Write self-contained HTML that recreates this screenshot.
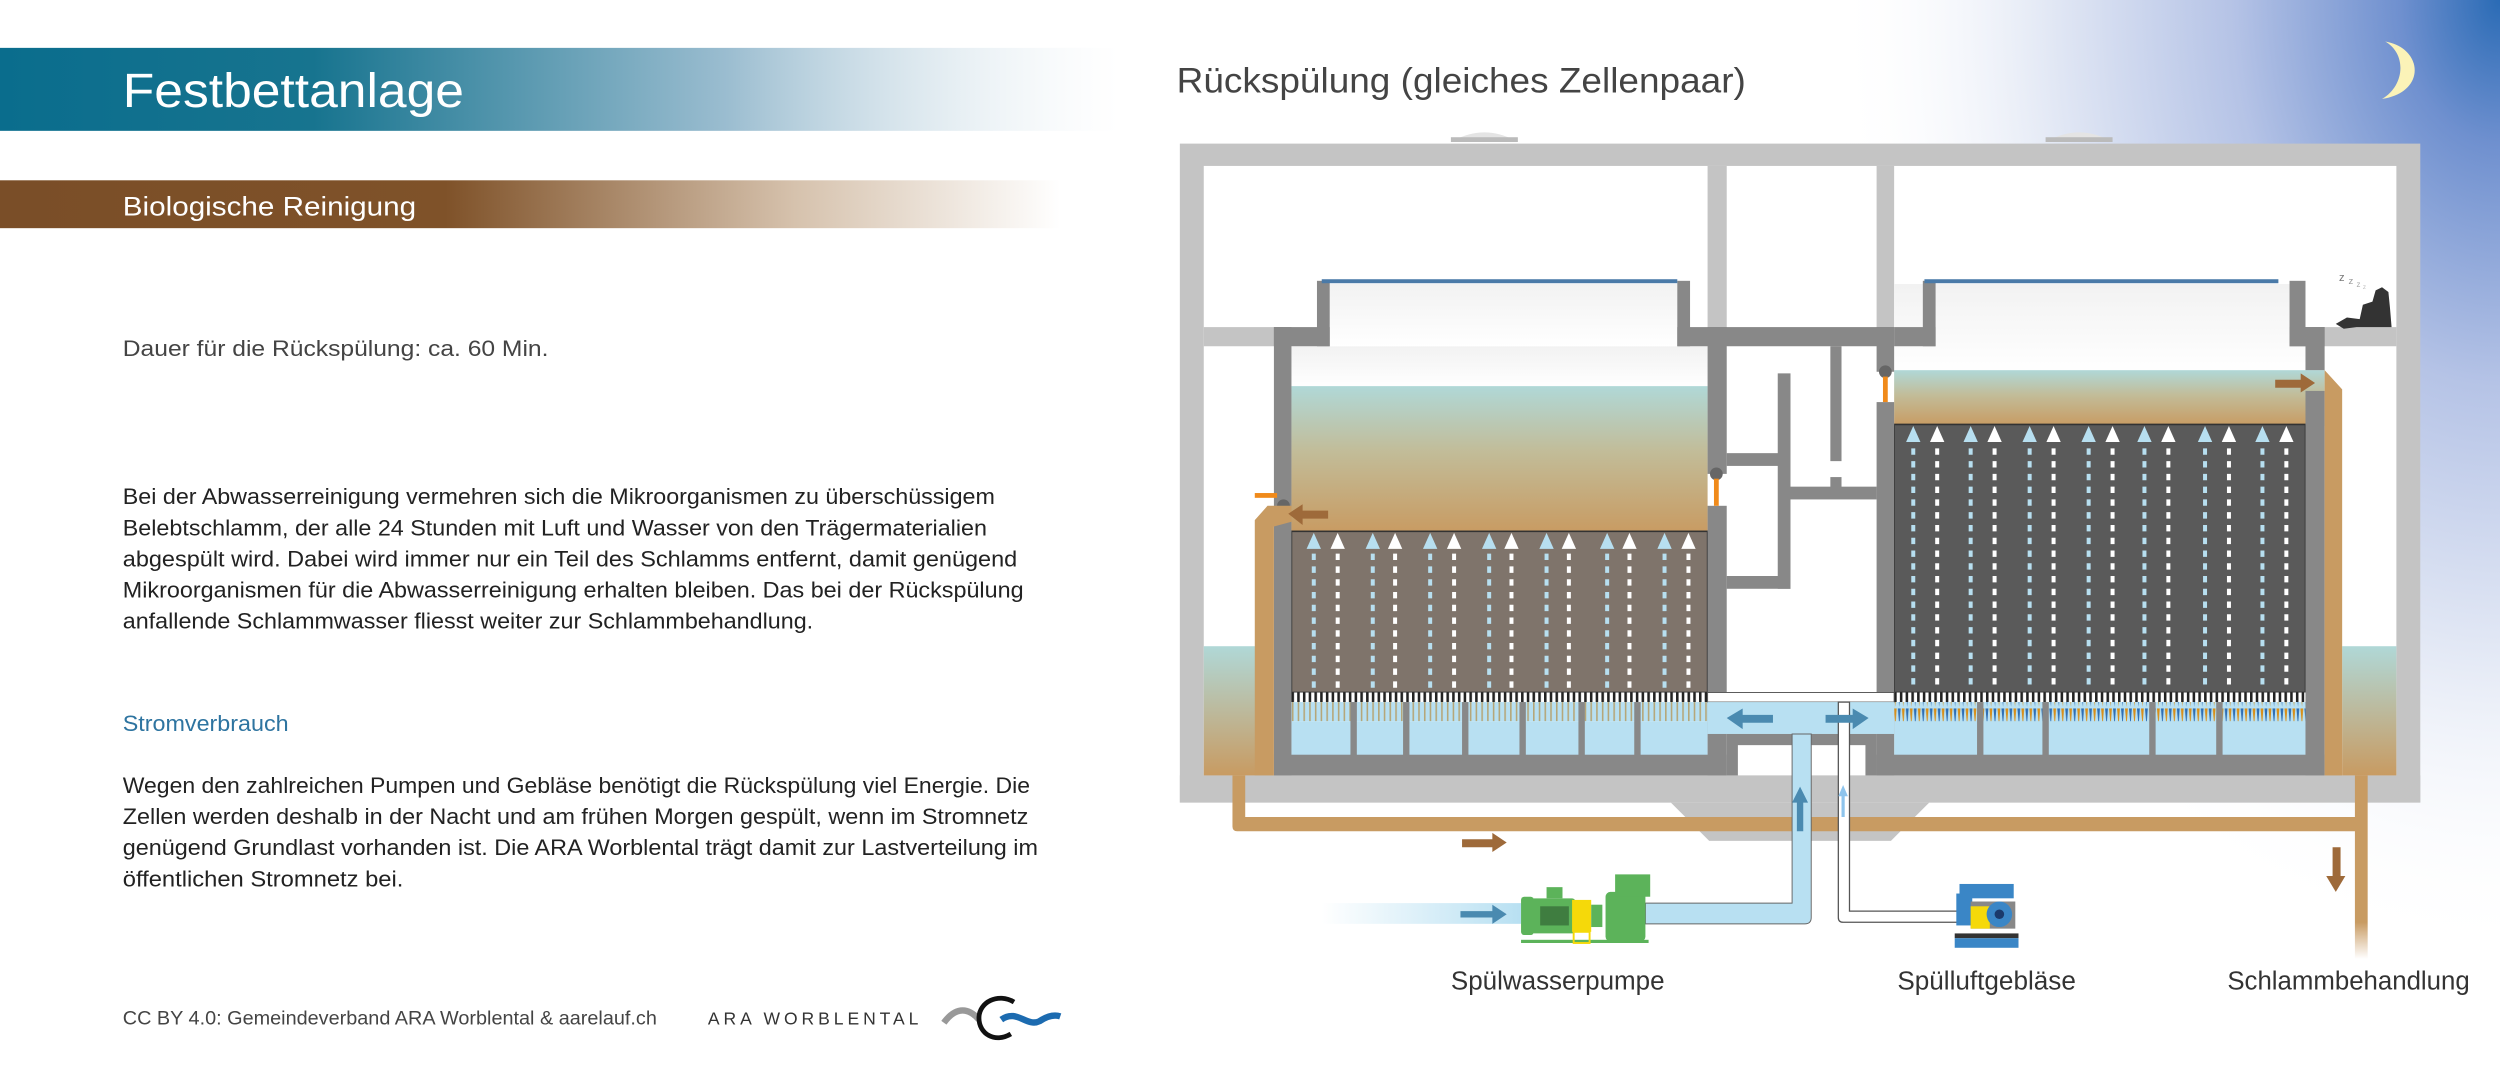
<!DOCTYPE html>
<html><head><meta charset="utf-8"><style>
html,body{margin:0;padding:0;background:#fff;}
svg{display:block;}
text{font-family:"Liberation Sans","DejaVu Sans",sans-serif;}
</style></head><body>
<svg width="2500" height="1085" viewBox="0 0 1568 680" preserveAspectRatio="none" xmlns="http://www.w3.org/2000/svg">
<defs>
<linearGradient id="gTeal" x1="0" x2="1"><stop offset="0" stop-color="#0a6d8d"/><stop offset="0.28" stop-color="#17748f"/><stop offset="0.65" stop-color="#9bbdd0"/><stop offset="1" stop-color="#fff" stop-opacity="0.3"/></linearGradient>
<linearGradient id="gBrown" x1="0" x2="1"><stop offset="0" stop-color="#7a4e28"/><stop offset="0.42" stop-color="#7f5229"/><stop offset="0.75" stop-color="#d6c2ad"/><stop offset="1" stop-color="#fff"/></linearGradient>
<radialGradient id="gSky" cx="1" cy="0" r="1"><stop offset="0" stop-color="#2a6bb5"/><stop offset="0.15" stop-color="#6f90cf"/><stop offset="0.4" stop-color="#b5c3e6"/><stop offset="0.7" stop-color="#e6ebf6"/><stop offset="1" stop-color="#fff" stop-opacity="0"/></radialGradient>
<linearGradient id="gWater" x1="0" y1="0" x2="0" y2="1"><stop offset="0" stop-color="#b0d8d7"/><stop offset="0.45" stop-color="#c2bc98"/><stop offset="1" stop-color="#c89b62"/></linearGradient>
<linearGradient id="gOut" x1="0" y1="0" x2="0" y2="1"><stop offset="0" stop-color="#b0d8d7"/><stop offset="1" stop-color="#c89b62"/></linearGradient>
<linearGradient id="gAir" x1="0" y1="0" x2="0" y2="1"><stop offset="0" stop-color="#f2f2f2"/><stop offset="1" stop-color="#fff"/></linearGradient>
<linearGradient id="gIn" x1="0" x2="1"><stop offset="0" stop-color="#b8e0f2" stop-opacity="0"/><stop offset="1" stop-color="#b8e0f2"/></linearGradient>
<linearGradient id="gDown" x1="0" y1="0" x2="0" y2="1"><stop offset="0" stop-color="#c89b62"/><stop offset="0.8" stop-color="#c89b62"/><stop offset="1" stop-color="#c89b62" stop-opacity="0"/></linearGradient>
<pattern id="pDiffL" width="3.6" height="6" patternUnits="userSpaceOnUse"><rect width="3.6" height="6" fill="#fff"/><rect width="1.6" height="6" fill="#222"/></pattern>
<pattern id="pTickL" width="3.6" height="12" patternUnits="userSpaceOnUse"><rect x="0.3" width="1" height="12" fill="#b5a77a"/></pattern>
<pattern id="pTickR" width="5" height="12" patternUnits="userSpaceOnUse"><path d="M0.3 0 L2.1 0 L1.3 11Z" fill="#2f6fb5"/><path d="M2.8 0 L4.6 0 L3.8 11Z" fill="#d8901a"/></pattern>
<g id="colL"><polygon points="0,334 -4.5,344 4.5,344" fill="#b7dff0"/><line x1="0" y1="347" x2="0" y2="432" stroke="#b7dff0" stroke-width="2.5" stroke-dasharray="4 4"/></g>
<g id="colLw"><polygon points="0,334 -4.5,344 4.5,344" fill="#fff"/><line x1="0" y1="347" x2="0" y2="432" stroke="#fff" stroke-width="2.5" stroke-dasharray="4 4"/></g>
<g id="colR"><polygon points="0,267 -4.5,277 4.5,277" fill="#b7dff0"/><line x1="0" y1="281" x2="0" y2="432" stroke="#b7dff0" stroke-width="2.5" stroke-dasharray="4 4"/></g>
<g id="colRw"><polygon points="0,267 -4.5,277 4.5,277" fill="#fff"/><line x1="0" y1="281" x2="0" y2="432" stroke="#fff" stroke-width="2.5" stroke-dasharray="4 4"/></g>
</defs>

<rect x="1150" y="0" width="418" height="600" fill="url(#gSky)"/>
<path d="M1496,26 C1520,30 1522,58 1494,62 C1508,54 1510,34 1496,26Z" fill="#fbf3b8"/>

<rect x="0" y="30" width="702" height="52" fill="url(#gTeal)"/>
<text x="77" y="67" font-size="30" fill="#fff" textLength="214" lengthAdjust="spacingAndGlyphs">Festbettanlage</text>
<rect x="0" y="113" width="665" height="30" fill="url(#gBrown)"/>
<text x="77" y="135" font-size="17" fill="#fff" textLength="184" lengthAdjust="spacingAndGlyphs">Biologische Reinigung</text>
<g font-size="14" fill="#222">
<text x="77" y="223" fill="#444" textLength="267" lengthAdjust="spacingAndGlyphs">Dauer für die Rückspülung: ca. 60 Min.</text>
<text x="77" y="316" textLength="547" lengthAdjust="spacingAndGlyphs">Bei der Abwasserreinigung vermehren sich die Mikroorganismen zu überschüssigem</text>
<text x="77" y="335.5" textLength="542" lengthAdjust="spacingAndGlyphs">Belebtschlamm, der alle 24 Stunden mit Luft und Wasser von den Trägermaterialien</text>
<text x="77" y="355" textLength="561" lengthAdjust="spacingAndGlyphs">abgespült wird. Dabei wird immer nur ein Teil des Schlamms entfernt, damit genügend</text>
<text x="77" y="374.5" textLength="565" lengthAdjust="spacingAndGlyphs">Mikroorganismen für die Abwasserreinigung erhalten bleiben. Das bei der Rückspülung</text>
<text x="77" y="394" textLength="433" lengthAdjust="spacingAndGlyphs">anfallende Schlammwasser fliesst weiter zur Schlammbehandlung.</text>
<text x="77" y="458" fill="#2e74a0" textLength="104" lengthAdjust="spacingAndGlyphs">Stromverbrauch</text>
<text x="77" y="497" textLength="569" lengthAdjust="spacingAndGlyphs">Wegen den zahlreichen Pumpen und Gebläse benötigt die Rückspülung viel Energie. Die</text>
<text x="77" y="516.5" textLength="568" lengthAdjust="spacingAndGlyphs">Zellen werden deshalb in der Nacht und am frühen Morgen gespült, wenn im Stromnetz</text>
<text x="77" y="536" textLength="574" lengthAdjust="spacingAndGlyphs">genügend Grundlast vorhanden ist. Die ARA Worblental trägt damit zur Lastverteilung im</text>
<text x="77" y="555.5" textLength="176" lengthAdjust="spacingAndGlyphs">öffentlichen Stromnetz bei.</text>
</g>
<text x="77" y="642" font-size="12" fill="#444" textLength="335" lengthAdjust="spacingAndGlyphs">CC BY 4.0: Gemeindeverband ARA Worblental &amp; aarelauf.ch</text>
<text x="444" y="642" font-size="11" fill="#333" textLength="132" lengthAdjust="spacing">ARA WORBLENTAL</text>
<path d="M592,641 C600,630 608,632 614,639" stroke="#999" stroke-width="4" fill="none"/>
<path d="M636,628 C626,622 614,628 614,638 C614,648 624,654 634,648" stroke="#111" stroke-width="3" fill="none"/>
<path d="M628,639 C638,632 644,644 652,640 C658,636 662,636 665,637" stroke="#1c6bb0" stroke-width="4" fill="none"/>

<text x="738" y="58" font-size="22" fill="#444" textLength="357" lengthAdjust="spacingAndGlyphs">Rückspülung (gleiches Zellenpaar)</text>

<path d="M912,88 Q931,78 950,88Z" fill="#e4e4e4"/><rect x="910" y="86" width="42" height="3" fill="#bbb"/>
<path d="M1285,88 Q1304,78 1323,88Z" fill="#e4e4e4"/><rect x="1283" y="86" width="42" height="3" fill="#bbb"/>

<rect x="740" y="90" width="778" height="413" fill="#c4c4c4"/>
<rect x="755" y="104" width="748" height="382" fill="#fff"/>
<rect x="1071" y="104" width="12" height="110" fill="#c4c4c4"/>
<rect x="1177" y="104" width="11" height="110" fill="#c4c4c4"/>
<rect x="755" y="205" width="50" height="12" fill="#c4c4c4"/>
<rect x="1450" y="205" width="53" height="12" fill="#c4c4c4"/>
<rect x="755" y="405" width="33" height="81" fill="url(#gOut)"/>
<rect x="1469" y="405" width="34" height="81" fill="url(#gOut)"/>

<rect x="810" y="217" width="261" height="26" fill="url(#gAir)"/>
<rect x="834" y="178" width="218" height="39" fill="url(#gAir)"/>
<rect x="810" y="242" width="261" height="92" fill="url(#gWater)"/>
<rect x="810" y="333" width="261" height="101" fill="#7f746b" stroke="#333" stroke-width="1"/>
<rect x="810" y="434" width="261" height="6" fill="url(#pDiffL)"/>
<rect x="810" y="440" width="261" height="12" fill="#b8e0f2"/>
<rect x="810" y="440" width="261" height="12" fill="url(#pTickL)"/>
<rect x="810" y="452" width="261" height="22" fill="#b8e0f2"/>
<g fill="#888"><rect x="847" y="440" width="4" height="34"/><rect x="880" y="440" width="4" height="34"/><rect x="917" y="440" width="4" height="34"/><rect x="953" y="440" width="4" height="34"/><rect x="990" y="440" width="4" height="34"/><rect x="1025" y="440" width="4" height="34"/></g>
<g>
<use href="#colL" x="824"/><use href="#colLw" x="839"/><use href="#colL" x="861"/><use href="#colLw" x="875"/><use href="#colL" x="897"/><use href="#colLw" x="912"/><use href="#colL" x="934"/><use href="#colLw" x="948"/><use href="#colL" x="970"/><use href="#colLw" x="984"/><use href="#colL" x="1008"/><use href="#colLw" x="1022"/><use href="#colL" x="1044"/><use href="#colLw" x="1059"/>
</g>
<g fill="#888">
<rect x="799" y="205" width="11" height="281"/>
<rect x="799" y="205" width="35" height="12"/>
<rect x="826" y="176" width="8" height="41"/>
<rect x="1052" y="176" width="8" height="41"/>
<rect x="1052" y="205" width="136" height="12"/>
<rect x="1071" y="205" width="12" height="92"/>
<rect x="1071" y="317" width="12" height="169"/>
<rect x="799" y="473" width="284" height="13"/>
</g>
<rect x="829" y="175" width="223" height="2.5" fill="#4a7aa8"/>
<circle cx="1076.5" cy="297" r="4" fill="#666"/>
<rect x="1075" y="300" width="3" height="17" fill="#f08a1a"/>
<circle cx="805" cy="317" r="4" fill="#666"/>
<rect x="787" y="309" width="14" height="3" fill="#f08a1a"/>
<path d="M787,486 L787,326 L795,317 L810,317 L810,327 L799,330 L799,486Z" fill="#c89b62"/>

<g fill="#888">
<rect x="1115" y="234" width="8" height="135"/>
<rect x="1083" y="284" width="40" height="8"/>
<rect x="1083" y="361" width="40" height="8"/>
<rect x="1148" y="217" width="7" height="72"/>
<rect x="1123" y="305" width="54" height="8"/>
<rect x="1148" y="299" width="7" height="8"/>
</g>

<rect x="1188" y="178" width="258" height="56" fill="url(#gAir)"/>
<rect x="1188" y="232" width="270" height="35" fill="url(#gWater)"/>
<rect x="1188" y="266" width="258" height="168" fill="#5a5a5a" stroke="#333" stroke-width="1"/>
<rect x="1188" y="434" width="258" height="6" fill="url(#pDiffL)"/>
<rect x="1188" y="440" width="258" height="34" fill="#b8e0f2"/>
<rect x="1188" y="440" width="258" height="12" fill="url(#pTickR)"/>
<g fill="#888"><rect x="1240" y="440" width="4" height="34"/><rect x="1281" y="440" width="4" height="34"/><rect x="1348" y="440" width="4" height="34"/><rect x="1390" y="440" width="4" height="34"/></g>
<g>
<use href="#colR" x="1200"/><use href="#colRw" x="1215"/><use href="#colR" x="1236"/><use href="#colRw" x="1251"/><use href="#colR" x="1273"/><use href="#colRw" x="1288"/><use href="#colR" x="1310"/><use href="#colRw" x="1325"/><use href="#colR" x="1345"/><use href="#colRw" x="1360"/><use href="#colR" x="1383"/><use href="#colRw" x="1398"/><use href="#colR" x="1419"/><use href="#colRw" x="1434"/>
</g>
<g fill="#888">
<rect x="1177" y="205" width="11" height="28"/>
<rect x="1177" y="252" width="11" height="234"/>
<rect x="1206" y="176" width="8" height="41"/>
<rect x="1188" y="205" width="26" height="12"/>
<rect x="1436" y="176" width="10" height="41"/>
<rect x="1436" y="205" width="22" height="12"/>
<rect x="1446" y="205" width="12" height="27"/>
<rect x="1446" y="245" width="12" height="241"/>
<rect x="1177" y="473" width="281" height="13"/>
</g>
<rect x="1207" y="175" width="222" height="2.5" fill="#4a7aa8"/>
<circle cx="1182.5" cy="233" r="4" fill="#666"/>
<rect x="1181" y="236" width="3" height="16" fill="#f08a1a"/>
<path d="M1458,232 L1469,244 L1469,486 L1458,486 L1458,245Z" fill="#c89b62"/>

<rect x="1071" y="434" width="117" height="6" fill="#fff" stroke="#555" stroke-width="0.6"/>
<rect x="1071" y="440" width="117" height="20" fill="#b8e0f2"/>
<g fill="#888"><rect x="1083" y="460" width="41" height="26"/><rect x="1136" y="460" width="41" height="26"/></g>
<rect x="1090" y="467" width="34" height="19" fill="#fff"/><rect x="1136" y="467" width="34" height="19" fill="#fff"/>

<rect x="740" y="486" width="778" height="17" fill="#c4c4c4"/>
<polygon points="1048,503 1210,503 1186,527 1072,527" fill="#c4c4c4"/>

<path d="M773,486 L773,518 Q773,521 776,521 L1483,521 L1483,512 L781,512 L781,486Z" fill="#c89b62"/>
<rect x="1477" y="486" width="8" height="115" fill="url(#gDown)"/>

<path d="M1124,460 L1124,566 L1032,566 L1032,579 L1132,579 Q1136,579 1136,575 L1136,460Z" fill="#b8e0f2" stroke="#666" stroke-width="0.6"/>
<rect x="829" y="566" width="125" height="13" fill="url(#gIn)"/>
<path d="M1153,440 L1153,575 Q1153,578 1156,578 L1229,578 L1229,571 L1160,571 L1160,440Z" fill="#fff" stroke="#555" stroke-width="0.8"/>

<g>
<rect x="954" y="562" width="8" height="24" rx="2" fill="#5cb35a"/>
<rect x="960" y="563" width="28" height="22" rx="2" fill="#5cb35a"/>
<rect x="966" y="568" width="18" height="12" fill="#3f7d40"/>
<rect x="970" y="556" width="10" height="7" fill="#5cb35a"/>
<rect x="986" y="564" width="12" height="20" fill="#f5d90a"/>
<rect x="998" y="567" width="7" height="14" fill="#5cb35a"/>
<rect x="1007" y="559" width="25" height="31" rx="3" fill="#5cb35a"/>
<rect x="1013" y="548" width="22" height="14" fill="#5cb35a"/>
<rect x="954" y="589" width="80" height="2" fill="#5cb35a"/>
<rect x="987" y="584" width="10" height="7" fill="none" stroke="#f5d90a" stroke-width="1.2"/>
</g>
<g>
<rect x="1229" y="554" width="34" height="9" fill="#3a86c6"/>
<rect x="1227" y="560" width="10" height="20" fill="#3a86c6"/>
<rect x="1236" y="565" width="28" height="17" fill="#888"/>
<rect x="1236" y="568" width="12" height="14" fill="#f5d90a"/>
<circle cx="1254" cy="573" r="8" fill="#3a86c6"/><circle cx="1254" cy="573" r="3" fill="#1b3a6b"/>
<rect x="1226" y="585" width="40" height="3" fill="#333"/>
<rect x="1226" y="588" width="40" height="6" fill="#3a86c6"/>
</g>

<g fill="#9e6a3a">
<polygon points="808,322 817,316 817,320 833,320 833,325 817,325 817,329"/>
<polygon points="1452,240 1443,234 1443,238 1427,238 1427,243 1443,243 1443,246"/>
<polygon points="945,528 936,522 936,526 917,526 917,531 936,531 936,534"/>
<polygon points="1465,559 1459,549 1463,549 1463,531 1468,531 1468,549 1471,549"/>
</g>
<g fill="#4a8ab0">
<polygon points="1083,450 1093,444 1093,448 1112,448 1112,453 1093,453 1093,457"/>
<polygon points="1172,450 1162,444 1162,448 1145,448 1145,453 1162,453 1162,457"/>
<polygon points="1129,493 1124,503 1127,503 1127,521 1131,521 1131,503 1134,503"/>
<polygon points="945,573 936,567 936,571 916,571 916,575 936,575 936,579"/>
</g>
<polygon points="1156,492 1153,499 1155,499 1155,512 1157,512 1157,499 1159,499" fill="#8ec4ec"/>

<text x="1467" y="176" font-size="7" fill="#777">z</text><text x="1473" y="178" font-size="6" fill="#999">z</text><text x="1478" y="180" font-size="5" fill="#aaa">z</text><text x="1482" y="181" font-size="4" fill="#bbb">z</text>
<path d="M1465,203 L1472,199 L1480,200 L1482,191 L1488,189 L1490,182 L1494,180 L1498,183 L1499,193 L1500,205 L1478,205 L1470,206Z" fill="#333"/>

<g font-size="16" fill="#333" text-anchor="middle">
<text x="977" y="620" textLength="134" lengthAdjust="spacingAndGlyphs">Spülwasserpumpe</text>
<text x="1246" y="620" textLength="112" lengthAdjust="spacingAndGlyphs">Spülluftgebläse</text>
<text x="1473" y="620" textLength="152" lengthAdjust="spacingAndGlyphs">Schlammbehandlung</text>
</g>
</svg>
</body></html>
